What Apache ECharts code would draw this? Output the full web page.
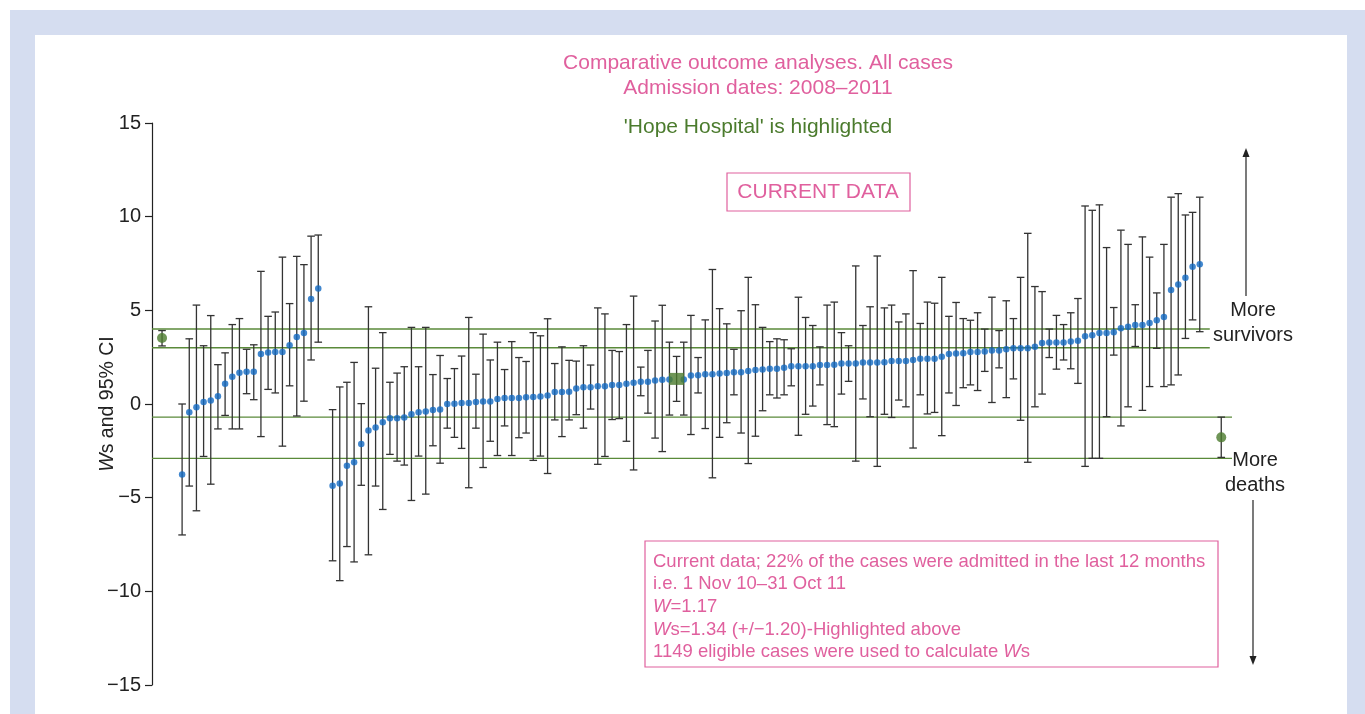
<!DOCTYPE html>
<html>
<head>
<meta charset="utf-8">
<script src="https://cdn.jsdelivr.net/npm/echarts@6/dist/echarts.min.js"></script>
<style>
html,body{margin:0;padding:0;background:#fff;}
#chart{width:1365px;height:714px;}
</style>
</head>
<body>
<div id="chart"></div>
<script>
// ---- data ----
// Ws per hospital, in plotted order (null = empty slot)
var wsValues = [-3.77,-0.44,-0.17,0.11,0.19,0.42,1.08,1.46,1.67,1.72,
  1.72,2.67,2.75,2.77,2.77,3.14,3.58,3.79,5.61,6.16,
  null,
  -4.36,-4.24,-3.30,-3.11,-2.14,-1.42,-1.25,-0.97,-0.76,-0.76,
  -0.72,-0.55,-0.44,-0.40,-0.32,-0.30,0.00,0.02,0.06,0.06,
  0.11,0.13,0.13,0.27,0.32,0.32,0.32,0.36,0.38,0.40,
  0.45,0.64,0.64,0.66,0.83,0.89,0.89,0.95,0.95,1.02,
  1.02,1.08,1.14,1.19,1.19,1.25,1.29,1.31,null,1.31,
  1.52,1.53,1.59,1.59,1.63,1.65,1.69,1.70,1.76,1.82,
  1.84,1.88,1.88,1.93,2.01,2.01,2.01,2.01,2.08,2.08,
  2.10,2.16,2.16,2.16,2.22,2.22,2.22,2.23,2.29,2.29,
  2.29,2.35,2.41,2.41,2.41,2.52,2.67,2.70,2.71,2.78,
  2.78,2.80,2.86,2.86,2.92,2.97,2.97,2.97,3.05,3.26,
  3.28,3.28,3.28,3.33,3.37,3.62,3.67,3.79,3.79,3.83,
  4.05,4.13,4.22,4.22,4.32,4.47,4.64,6.08,6.38,6.74,
  7.33,7.46];
var ciUpper = [0.00,3.48,5.28,3.11,4.72,2.10,2.73,4.24,4.56,2.92,
  3.16,7.08,4.68,4.91,7.84,5.36,7.88,7.44,8.96,9.02,
  null,
  -0.30,0.91,1.16,2.22,0.02,5.19,1.91,3.81,1.16,1.65,
  1.99,4.09,1.99,4.09,1.57,2.59,1.36,1.89,2.56,4.62,
  1.59,3.73,2.35,3.30,1.84,3.33,2.48,2.27,3.81,3.64,
  4.55,2.16,3.05,2.33,2.29,3.11,2.08,5.13,4.81,2.86,
  2.80,4.24,5.76,1.97,2.86,4.43,5.27,3.30,null,3.30,
  4.73,2.48,4.49,7.18,5.09,4.28,2.92,4.98,6.76,5.30,
  4.09,3.33,3.48,3.43,2.95,5.70,4.62,4.19,3.05,5.28,
  5.44,3.81,3.11,7.37,4.19,5.19,7.90,5.13,5.28,4.38,
  4.81,7.12,4.30,5.44,5.38,6.76,4.68,5.42,4.56,4.47,
  4.87,4.00,5.70,3.92,5.51,4.56,6.76,9.11,6.27,6.00,
  4.00,4.73,4.24,4.87,5.63,10.57,10.34,10.63,8.35,5.15,
  9.28,8.52,5.30,8.92,7.84,5.93,8.52,11.04,11.23,10.09,
  10.23,11.04];
var ciLower = [-6.99,-4.38,-5.70,-2.80,-4.28,-1.33,-0.61,-1.33,-1.33,0.55,
  0.23,-1.74,0.78,0.59,-2.25,0.97,-0.64,0.15,2.35,3.30,
  null,
  -8.37,-9.43,-7.61,-8.43,-4.34,-8.05,-4.38,-5.63,-2.69,-3.05,
  -3.26,-5.15,-2.78,-4.81,-2.23,-3.16,-1.29,-1.78,-2.37,-4.47,
  -1.29,-3.39,-1.99,-2.75,-1.17,-2.75,-1.80,-1.55,-3.01,-2.78,
  -3.71,-0.85,-1.74,-0.85,-0.57,-1.29,-0.27,-3.22,-2.80,-0.83,
  -0.78,-1.99,-3.52,0.44,-0.49,-1.82,-2.54,-0.59,null,-0.59,
  -1.63,0.59,-1.31,-3.94,-1.78,-1.00,0.49,-1.55,-3.18,-1.72,
  -0.36,0.49,0.32,0.49,0.97,-1.67,-0.55,-0.11,1.02,-1.10,
  -1.21,0.53,1.21,-3.05,0.27,-0.68,-3.33,-0.55,-0.72,0.21,
  -0.15,-2.35,0.49,-0.53,-0.45,-1.69,0.59,-0.08,0.87,1.02,
  0.72,1.74,0.08,1.93,0.34,1.34,-0.87,-3.11,-0.15,0.53,
  2.48,1.86,2.35,1.88,1.10,-3.33,-2.90,-2.90,-0.68,2.61,
  -1.17,-0.15,3.07,-0.34,0.93,2.97,0.93,1.02,1.55,3.50,
  4.49,3.86];
// Highlighted hospital ('Hope Hospital'): slot, Ws, lower, upper
var hopeSlot = 69, hopeWs = 1.34, hopeLower = 0.14, hopeUpper = 2.54;
// Reference markers (green) at the two ends: [slot, value, lower, upper]
var survivorsMarker = [-2.8, 3.52, 3.10, 3.92];
var deathsMarker = [145.0, -1.78, -2.85, -0.70];
// Horizontal green bands: [value, endSlot]
var survivorsBand = [[4.0, 143.4], [3.0, 143.4]];
var deathsBand = [[-0.7, 146.5], [-2.9, 146.5]];
var yTicks = [-15, -10, -5, 0, 5, 10, 15];

// ---- build ----
var PINK = '#e0609e', GREEN = '#4b7b2d', BLUE = '#1169c2', BAR = '#333333';
var X_MIN = -4.2, X_MAX = 146.5;
var points = [], bars = [];
for (var i = 0; i < wsValues.length; i++) {
  if (wsValues[i] === null) continue;
  points.push([i, wsValues[i]]);
  bars.push([i, ciLower[i], ciUpper[i]]);
}
bars.push([hopeSlot, hopeLower, hopeUpper]);
var greenBars = [
  [survivorsMarker[0], survivorsMarker[2], survivorsMarker[3]],
  [deathsMarker[0], deathsMarker[2], deathsMarker[3]]
];

function errRender(color) {
  return function (params, api) {
    var x = api.value(0);
    var lo = api.coord([x, api.value(1)]);
    var hi = api.coord([x, api.value(2)]);
    var hw = 3.8;
    var st = { stroke: color, lineWidth: 1.3 };
    return { type: 'group', children: [
      { type: 'line', shape: { x1: lo[0], y1: lo[1], x2: hi[0], y2: hi[1] }, style: st },
      { type: 'line', shape: { x1: lo[0] - hw, y1: lo[1], x2: lo[0] + hw, y2: lo[1] }, style: st },
      { type: 'line', shape: { x1: hi[0] - hw, y1: hi[1], x2: hi[0] + hw, y2: hi[1] }, style: st }
    ]};
  };
}

var bandSeries = [];
survivorsBand.concat(deathsBand).forEach(function (b) {
  bandSeries.push({
    type: 'line', data: [[X_MIN, b[0]], [b[1], b[0]]], symbol: 'none', silent: true,
    lineStyle: { color: '#5a8a3a', width: 1.4 }, z: 1, animation: false
  });
});

var FONT = 'Liberation Sans, Arial, sans-serif';
var chart = echarts.init(document.getElementById('chart'), null, { renderer: 'canvas' });
chart.setOption({
  animation: false,
  textStyle: { fontFamily: FONT },
  grid: { left: 152, right: 133, top: 123, bottom: 29 },
  xAxis: { type: 'value', min: X_MIN, max: X_MAX, show: false },
  yAxis: {
    type: 'value', min: yTicks[0], max: yTicks[yTicks.length - 1], interval: 5,
    axisLine: { show: true, onZero: false, lineStyle: { color: '#222', width: 1.2 } },
    axisTick: { show: true, length: 7, lineStyle: { color: '#222', width: 1.2 } },
    splitLine: { show: false },
    axisLabel: { color: '#222', fontSize: 20, margin: 11, fontFamily: FONT,
      formatter: function (v) { return String(v).replace('-', '\u2212'); } }
  },
  graphic: [
    { type: 'rect', z: -10, shape: { x: 10, y: 10, width: 1355, height: 704 }, style: { fill: '#d5ddf0' }, silent: true },
    { type: 'rect', z: -9, shape: { x: 35, y: 35, width: 1312, height: 679 }, style: { fill: '#ffffff' }, silent: true },
    { type: 'text', x: 108, y: 404, rotation: Math.PI / 2, style: {
      text: '{i|W}s and 95% CI', fill: '#222', font: '19.5px ' + FONT, textAlign: 'center', textVerticalAlign: 'middle',
      rich: { i: { fontStyle: 'italic', fontSize: 19.5, fill: '#222', fontFamily: FONT } } } },
    { type: 'text', x: 758, y: 63, style: { text: 'Comparative outcome analyses. All cases', fill: PINK, font: '21px ' + FONT, textAlign: 'center', textVerticalAlign: 'middle' } },
    { type: 'text', x: 758, y: 88, style: { text: 'Admission dates: 2008\u20132011', fill: PINK, font: '21px ' + FONT, textAlign: 'center', textVerticalAlign: 'middle' } },
    { type: 'text', x: 758, y: 127, style: { text: "'Hope Hospital' is highlighted", fill: GREEN, font: '21px ' + FONT, textAlign: 'center', textVerticalAlign: 'middle' } },
    { type: 'rect', shape: { x: 727, y: 173, width: 183, height: 38 }, style: { fill: 'none', stroke: PINK, lineWidth: 1.2 } },
    { type: 'text', x: 818, y: 192, style: { text: 'CURRENT DATA', fill: PINK, font: '21px ' + FONT, textAlign: 'center', textVerticalAlign: 'middle' } },
    { type: 'rect', shape: { x: 645, y: 541, width: 573, height: 126 }, style: { fill: '#fff', stroke: PINK, lineWidth: 1.2 } },
    { type: 'text', x: 653, y: 550.5, style: {
      text: 'Current data; 22% of the cases were admitted in the last 12 months\ni.e. 1 Nov 10\u201331 Oct 11\n{i|W}=1.17\n{i|W}s=1.34 (+/\u22121.20)-Highlighted above\n1149 eligible cases were used to calculate {i|W}s',
      fill: PINK, font: '18.5px ' + FONT, lineHeight: 22.6, textAlign: 'left', textVerticalAlign: 'top',
      rich: { i: { fontStyle: 'italic', fill: PINK, fontSize: 18.5, fontFamily: FONT, lineHeight: 22.6 } } } },
    { type: 'text', x: 1253, y: 310, style: { text: 'More', fill: '#222', font: '20px ' + FONT, textAlign: 'center', textVerticalAlign: 'middle' } },
    { type: 'text', x: 1253, y: 335, style: { text: 'survivors', fill: '#222', font: '20px ' + FONT, textAlign: 'center', textVerticalAlign: 'middle' } },
    { type: 'text', x: 1255, y: 460, style: { text: 'More', fill: '#222', font: '20px ' + FONT, textAlign: 'center', textVerticalAlign: 'middle' } },
    { type: 'text', x: 1255, y: 485, style: { text: 'deaths', fill: '#222', font: '20px ' + FONT, textAlign: 'center', textVerticalAlign: 'middle' } },
    { type: 'line', shape: { x1: 1246, y1: 296, x2: 1246, y2: 155 }, style: { stroke: '#222', lineWidth: 1.2 } },
    { type: 'polygon', shape: { points: [[1246, 148], [1242.5, 157], [1249.5, 157]] }, style: { fill: '#222' } },
    { type: 'line', shape: { x1: 1253, y1: 500, x2: 1253, y2: 658 }, style: { stroke: '#222', lineWidth: 1.2 } },
    { type: 'polygon', shape: { points: [[1253, 665], [1249.5, 656], [1256.5, 656]] }, style: { fill: '#222' } }
  ],
  series: bandSeries.concat([
    { type: 'custom', data: bars, renderItem: errRender(BAR), encode: { x: 0, y: [1, 2] }, z: 3, silent: true },
    { type: 'custom', data: greenBars, renderItem: errRender('#333'), encode: { x: 0, y: [1, 2] }, z: 3, silent: true },
    { type: 'scatter', data: points, symbol: 'circle', symbolSize: 6.5, itemStyle: { color: BLUE }, z: 5, silent: true },
    { type: 'scatter', data: [[hopeSlot, hopeWs]], symbol: 'rect', symbolSize: [15, 12], itemStyle: { color: GREEN }, z: 6, silent: true },
    { type: 'scatter', data: [[survivorsMarker[0], survivorsMarker[1]], [deathsMarker[0], deathsMarker[1]]], symbol: 'circle', symbolSize: 10, itemStyle: { color: GREEN }, z: 6, silent: true }
  ])
});
</script>
</body>
</html>
